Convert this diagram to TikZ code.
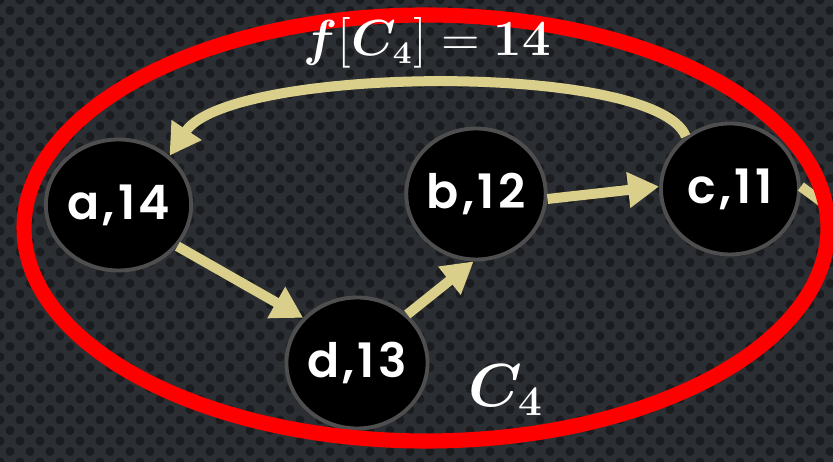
\documentclass[tikz,border=0pt]{standalone}
\usepackage{amsmath,amssymb,bm}
\usepackage[no-math]{fontspec}
\usepackage{tikz}
\usetikzlibrary{arrows.meta,shapes.geometric}
\newfontfamily\vtxfont[LetterSpace=7,BoldFont={Poppins SemiBold}]{Poppins}
\definecolor{bgcol}{RGB}{43,46,50}
\definecolor{dotcol}{RGB}{26,28,31}
\definecolor{khaki}{RGB}{218,207,138}
\definecolor{ringgray}{RGB}{78,78,78}

\begin{document}
\begin{tikzpicture}[
  vertex/.style={ellipse,fill=black,draw=ringgray,line width=1.1pt,
    minimum width=1.38cm,minimum height=1.31cm,inner sep=0pt,
    text=white,font=\vtxfont\bfseries\fontsize{13.5}{15}\selectfont},
  edge/.style={khaki,line width=0.1cm,-{Triangle[length=0.31cm,width=0.34cm]}},
  mathlbl/.style={text=white,inner sep=0pt}
]
\useasboundingbox (0,0) rectangle (8.33,4.62);
\clip (0,0) rectangle (8.33,4.62);
% background texture
\fill[bgcol] (0,0) rectangle (8.33,4.62);
\foreach \y in {0,0.21,...,4.7}
  \foreach \x in {0,0.2,...,8.4} {
    \fill[dotcol] (\x,\y) circle (0.045);
    \fill[dotcol] (\x+0.1,\y+0.105) circle (0.045);
  }
% vertices
\node (a) at (1.185,2.57) [vertex] {a,14};
\node (b) at (4.76,2.68) [vertex] {b,12};
\node (c) at (7.30,2.73) [vertex] {c,11};
\node (d) at (3.57,0.99) [vertex] {d,13};
\coordinate (out) at (8.6,2.32);
% edges
\draw[edge] (a.-35) -- (d.140);
\draw[edge] (d.44) -- (b.-92);
\draw[edge] (b.-4) -- (c.178);
\draw[edge] (c.130) .. controls +(-0.3,0.75) and +(0.6,0.9) .. (a.44);
\draw[khaki,line width=0.1cm] (c.2) -- (out);
% cut
\draw[red,line width=4.3pt] (4.26,2.34) ellipse [x radius=4.02,y radius=2.13];
\node (flow) at (4.27,4.19) [mathlbl,font=\fontsize{13.5}{16}\selectfont] {$\bm{f}[\bm{C}_{\mathbf{4}}] = \mathbf{14}$};
\node (cut) at (5.06,0.72) [mathlbl,font=\fontsize{18}{20}\selectfont] {$\bm{C}_{\mathbf{4}}$};
\end{tikzpicture}
\end{document}
